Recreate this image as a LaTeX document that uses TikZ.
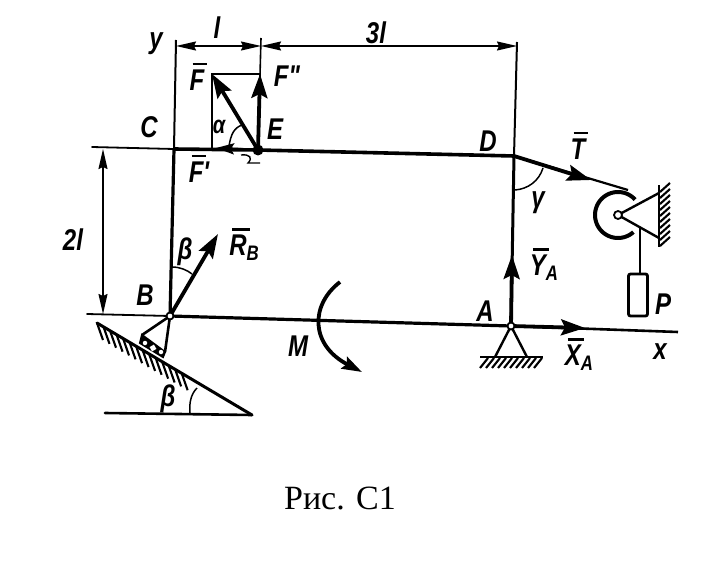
\documentclass[tikz,border=0pt]{standalone}
\usepackage{fontspec}
\setmainfont{Liberation Serif}
\newfontfamily\lbl[FakeStretch=0.8]{Liberation Sans}
\usetikzlibrary{arrows.meta,calc}
\newcommand{\ovl}[1]{\setbox0\hbox{#1}\rlap{\smash{\kern3pt\raisebox{25pt}{\rule{\wd0}{2.4pt}}}}#1}
\newcommand{\sbs}[1]{\raisebox{-5pt}{\fontsize{21}{21}\selectfont #1}}
\tikzset{
  x=1pt,y=-1pt,
  thinl/.style={line width=1.8pt,line cap=round},
  beam/.style={line width=3.6pt,line cap=round},
  forcearrow/.style={line width=3.8pt,-{Stealth[length=24pt,width=16pt,inset=4pt]}},
  smallforce/.style={line width=2.6pt,-{Stealth[length=18pt,width=11pt,inset=3pt]}},
  dimarrow/.style={line width=1.5pt,{Stealth[length=20pt,width=9pt,inset=2pt]}-{Stealth[length=20pt,width=9pt,inset=2pt]}},
  hatchl/.style={line width=2.1pt},
  lab/.style={font=\lbl\bfseries\itshape\fontsize{30}{30}\selectfont,inner sep=0pt},
  slab/.style={font=\lbl\bfseries\itshape\fontsize{25}{25}\selectfont,inner sep=0pt},
  hinge/.style={circle,draw,fill=white,line width=1.8pt,inner sep=0pt,minimum size=7pt},
}
\begin{document}
\begin{tikzpicture}
\useasboundingbox (0,0) rectangle (714,572);
\fill[white] (0,0) rectangle (714,572);
% points
\coordinate (C) at (174,149);
\coordinate (E) at (258,150);
\coordinate (D) at (514,156);
\coordinate (B) at (170,316);
\coordinate (A) at (511,326);
\coordinate (Xend) at (678,332);
\coordinate (Yend) at (176,40);
\coordinate (Dtop) at (517,42);
\coordinate (Etop) at (261,38);
\coordinate (Cleft) at (92,147);
\coordinate (Bleft) at (87,314);
\coordinate (Pul) at (618,215);
% axes and frame
\draw[line width=2pt] (Yend) -- (C);
\draw[line width=3.2pt] (C) -- (B);
\draw[thinl] (Cleft) -- (C);
\draw[beam] (C) -- (E) -- (D);
\draw[line width=2pt] (Dtop) -- (D);
\draw[line width=3pt] (D) -- (A);
\draw[thinl] (Bleft) -- (B);
\draw[line width=3.2pt] (B) -- (A);
\draw[line width=2.6pt] (A) -- (Xend);
\draw[line width=1.6pt] (Etop) -- (E);
% dimensions
\coordinate (d1) at (176,46); \coordinate (d2) at (261,46); \coordinate (d3) at (517,46);
\coordinate (d4) at (103,149); \coordinate (d5) at (103,314);
\draw[dimarrow] (d1) -- (d2);
\draw[dimarrow] (d2) -- (d3);
\draw[dimarrow] (d4) -- (d5);
% force rectangle at E
\coordinate (Fr1) at (212,148); \coordinate (Fr2) at (212,74); \coordinate (Fr3) at (260,74);
\draw[line width=1.8pt] (Fr1) -- (Fr2) -- (Fr3);
\draw[forcearrow] (E) -- (Fr2);
\draw[forcearrow] (E) -- (Fr3);
\coordinate (Fp) at (216,148);
\draw[smallforce] (E) -- (Fp);
\fill (E) circle[radius=5.5pt];
\draw[line width=1.5pt] (229,146) .. controls (231,134) and (234,128) .. (242,125);
\draw[line width=1.4pt] (241,155) .. controls (250,154) and (253,158) .. (248,163) -- (260,163);
% R_B
\coordinate (Rb) at (218,234);
\draw[forcearrow] (B) -- (Rb);
\draw[line width=1.5pt] (172,267) .. controls (180,267) and (187,270) .. (192,274);
% support B
\coordinate (Sa) at (142,335); \coordinate (Sb) at (165,352);
\draw[line width=2.6pt] (B) -- (Sa);
\draw[line width=2.6pt] (B) -- (Sb);
\fill (Sa) -- (Sb) -- (163,357) -- (140,343) -- cycle;
\draw[line width=2pt] (Sa) -- (140,343) -- (163,357) -- (Sb) -- cycle;
\node[circle,fill=white,inner sep=0pt,minimum size=4.5pt] (r1) at (145,343) {};
\node[circle,fill=white,inner sep=0pt,minimum size=4.5pt] (r2) at (161,352) {};
\node[fill=white,rotate=30,inner sep=0pt,minimum size=5pt] (r3) at (153,348) {};
\node[hinge] (hB) at (B) {};
% incline
\coordinate (I1) at (97,323); \coordinate (I2) at (252,415); \coordinate (H1) at (105,413);
\draw[line width=3pt,line cap=round] (I1) -- (I2);
\draw[line width=2.6pt,line cap=round] (H1) -- (I2);
\foreach \t in {0,0.042,...,0.56} {
  \draw[hatchl] ($(I1)!\t!(I2)$) -- ++(6,17);
}
\draw[line width=1.5pt] (197,388) .. controls (191,394) and (189,403) .. (190,413);
% A support
\coordinate (Ta) at (495,357); \coordinate (Tb) at (527,357);
\coordinate (Ga) at (480,357); \coordinate (Gb) at (543,357);
\draw[line width=2.4pt] (Ta) -- (A) -- (Tb);
\draw[line width=2.8pt] (Ga) -- (Gb);
\foreach \x in {488,494,...,544} {
  \draw[hatchl] (\x,358) -- ++(-8,10);
}
\coordinate (Ya) at (512,255); \coordinate (Xa) at (585,328);
\draw[forcearrow] (A) -- (Ya);
\draw[forcearrow] (A) -- (Xa);
\node[hinge] (hA) at (A) {};
% gamma arc
\draw[line width=1.5pt] (543,168) .. controls (539,181) and (528,189) .. (515,190);
% cable and pulley
\coordinate (Tt) at (591,180); \coordinate (Tan) at (628,190);
\draw[line width=2.2pt] (D) -- (Tan);
\draw[forcearrow] (D) -- (Tt);
\draw[line width=4pt] plot[smooth,domain=42:312,samples=50] ({618+23*cos(\x)},{215-23*sin(\x)});
\coordinate (W1) at (659,193); \coordinate (W2) at (659,238);
\draw[line width=2.4pt] (W1) -- (Pul) -- (W2);
\coordinate (Wt) at (659,185); \coordinate (Wb) at (659,247);
\draw[line width=2.8pt] (Wt) -- (Wb);
\foreach \y in {192,198,...,250} {
  \draw[hatchl] (660,\y) -- ++(10,-9);
}
\node[hinge,minimum size=8pt] (hP) at (Pul) {};
% weight
\coordinate (Rt) at (640,228); \node[draw,line width=2.8pt,rounded corners=2pt,minimum width=19pt,minimum height=42pt,inner sep=0pt] (Wg) at (638,295) {};
\draw[line width=2.2pt] (Rt) -- (Wg.north -| Rt);
% M
\coordinate (M1) at (340,282); \coordinate (M2) at (362,372);
\draw[line width=3.8pt,-{Stealth[length=20pt,width=13pt,inset=3pt]}] (M1) .. controls (310,305) and (310,345) .. (M2);
% labels
\node[lab] (ly) at (156,44) {y};
\node[lab] (ll) at (217,28) {l};
\node[lab] (l3) at (376,33) {3l};
\node[lab] (lF) at (197,80) {\ovl{F}};
\node[lab] (lFpp) at (287,76) {F"};
\node[lab] (lC) at (149,127) {C};
\node[lab] (lE) at (275,129) {E};
\node[lab] (lD) at (488,141) {D};
\node[lab] (lFp) at (199,172) {\ovl{F}'};
\node[slab] (la) at (219,127) {α};
\node[lab] (l2l) at (73,240) {2l};
\node[lab] (lbe) at (185,252) {β};
\node[lab] (lRb) at (244,248) {\ovl{R}\sbs{B}};
\node[lab] (lB) at (145,295) {B};
\node[lab] (lbe2) at (168,399) {β};
\node[lab] (lM) at (298,346) {M};
\node[lab] (lA) at (485,311) {A};
\node[lab] (lYa) at (544,268) {\ovl{Y}\sbs{A}};
\node[lab] (lXa) at (579,358) {\ovl{X}\sbs{A}};
\node[lab] (lx) at (660,352) {x};
\node[lab] (lP) at (663,304) {P};
\node[lab] (lT) at (578,149) {\ovl{T}};
\node[lab] (lg) at (538,203) {γ};
\node[font=\fontsize{34}{34}\selectfont,inner sep=0pt] (cap) at (340,498) {Рис. C1};
\end{tikzpicture}
\end{document}
